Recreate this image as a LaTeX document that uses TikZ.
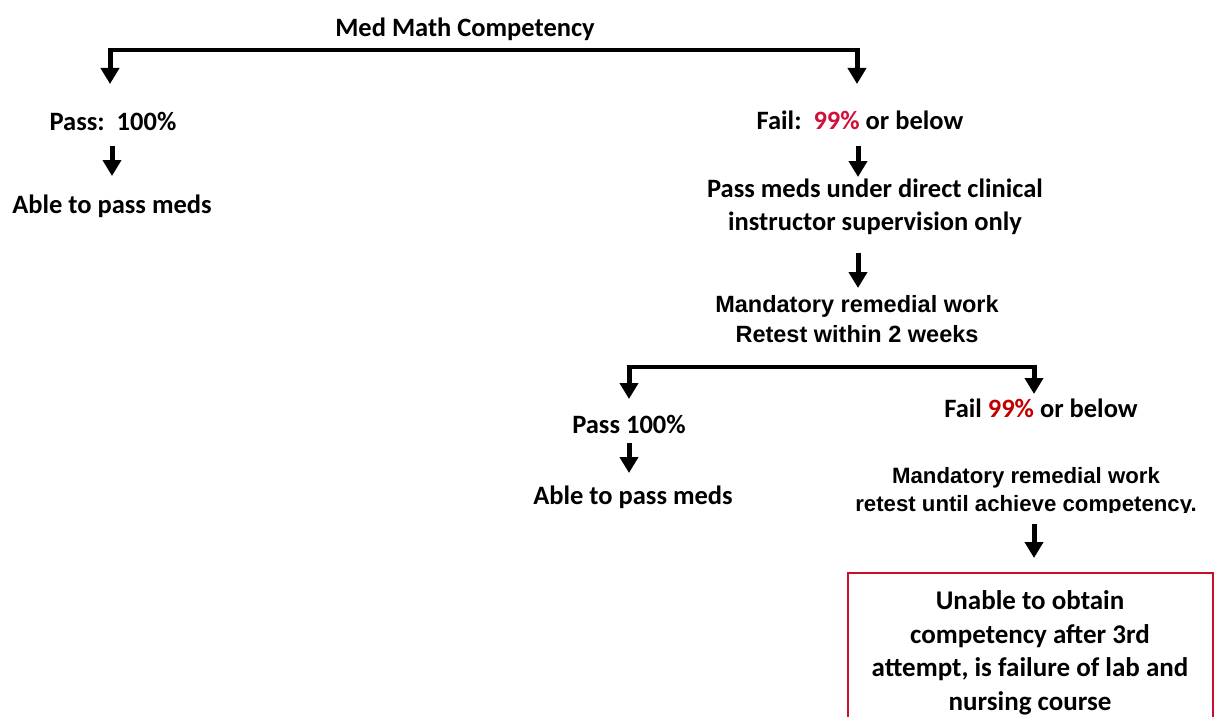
\documentclass[tikz,border=0pt]{standalone}
\usepackage{fontspec}
\setmainfont{Carlito}
\newfontfamily\arialf{Liberation Sans}
\usetikzlibrary{arrows.meta}
\definecolor{redA}{HTML}{D0103A}
\definecolor{redB}{HTML}{C00000}
\definecolor{boxred}{HTML}{C8102E}
\tikzset{
  lbl/.style={font=\fontsize{26.5}{33}\selectfont\bfseries, align=center, inner sep=0pt},
  albl/.style={font=\arialf\fontsize{23.5}{30}\selectfont\bfseries, align=center, inner sep=0pt},
  arr/.style={line width=5pt, -{Triangle[width=18pt,length=16pt]}},
  bar/.style={line width=4.5pt},
}
\begin{document}
\begin{tikzpicture}[x=1pt,y=-1pt]
\useasboundingbox (0,0) rectangle (1228,717);
\clip (0,0) rectangle (1228,717);
% title
\node[lbl] (title) at (465,29) {Med Math Competency};
\coordinate (b1l) at (110,50);
\coordinate (b1r) at (857,50);
\coordinate (t1l) at (110,84);
\coordinate (t1r) at (857,84);
\draw[bar] ([xshift=-2.5pt]b1l) -- ([xshift=2.5pt]b1r);
\draw[arr] (b1l) -- (t1l);
\draw[arr] (b1r) -- (t1r);
% left branch
\node[lbl] (pass1) at (113,121) {Pass:\ \ 100\%};
\node[lbl] (able1) at (112,206) {Able to pass meds};
\coordinate (a1s) at (112,146);
\coordinate (a1e) at (112,176);
\draw[arr] (a1s) -- (a1e);
% right branch
\node[lbl] (fail1) at (860,120) {Fail:\ \ \textcolor{redA}{99\%} or below};
\node[lbl] (super) at (875,207) {Pass meds under direct clinical\\instructor supervision only};
\coordinate (a2s) at (858,146);
\coordinate (a2e) at (858,177);
\draw[arr] (a2s) -- (a2e);
\node[albl] (mand1) at (857,319) {Mandatory remedial work\\Retest within 2 weeks};
\coordinate (a3s) at (858,253);
\coordinate (a3e) at (858,288);
\draw[arr] (a3s) -- (a3e);
% second split
\coordinate (b2l) at (629,367);
\coordinate (b2r) at (1034,367);
\coordinate (t2l) at (629,399);
\coordinate (t2r) at (1034,394);
\draw[bar] ([xshift=-2.5pt]b2l) -- ([xshift=2.5pt]b2r);
\draw[arr] (b2l) -- (t2l);
\draw[arr] (b2r) -- (t2r);
\node[lbl] (pass2) at (629,424) {Pass 100\%};
\coordinate (a4s) at (629,443);
\coordinate (a4e) at (629,473);
\draw[arr] (a4s) -- (a4e);
\node[lbl] (able2) at (633,497) {Able to pass meds};
\node[lbl] (fail2) at (1041,408) {Fail \textcolor{redB}{99\%} or below};
\begin{scope}
\clip (800,440) rectangle (1228,512);
\node[albl, font=\arialf\fontsize{22.2}{28}\selectfont\bfseries] (mand2) at (1026,492) {Mandatory remedial work\\retest until achieve competency.};
\end{scope}
\coordinate (a5s) at (1034,524);
\coordinate (a5e) at (1034,558);
\draw[arr] (a5s) -- (a5e);
\draw[boxred, line width=1.5pt] (848,740) -- (848,573) -- (1213,573) -- (1213,740);
\node[lbl, font=\fontsize{27}{33.5}\selectfont\bfseries] (fin) at (1030,653) {Unable to obtain\\competency after 3rd\\attempt, is failure of lab and\\nursing course};
\end{tikzpicture}
\end{document}
